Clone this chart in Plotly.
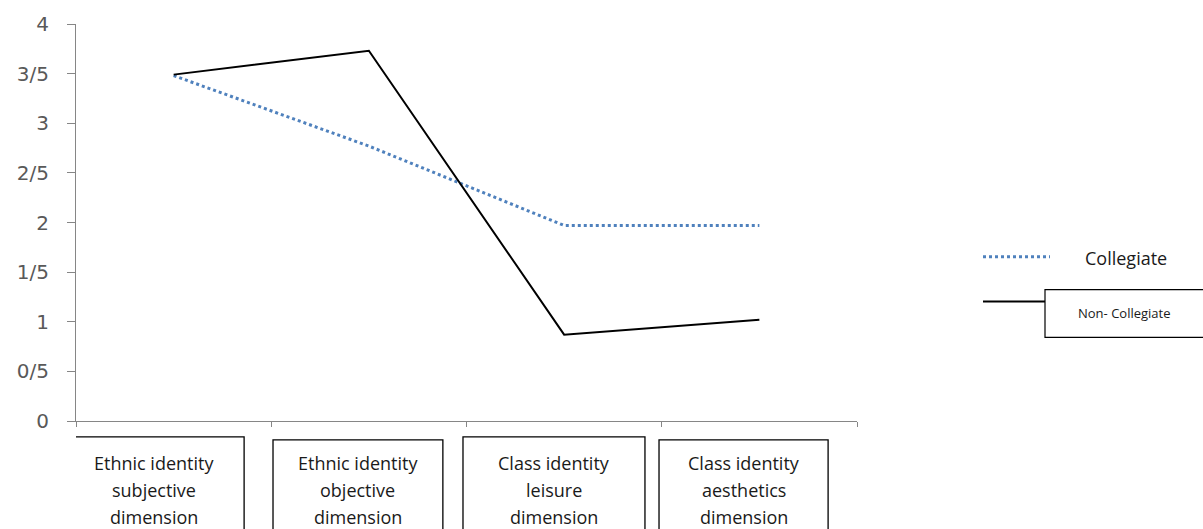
import plotly.graph_objects as go

# ---- data ----
category_lines = [
    ["Ethnic identity", "subjective", "dimension"],
    ["Ethnic identity", "objective", "dimension"],
    ["Class identity", "leisure", "dimension"],
    ["Class identity", "aesthetics", "dimension"],
]
categories = [" ".join(c) for c in category_lines]
collegiate = [3.48, 2.77, 1.97, 1.97]
non_collegiate = [3.49, 3.73, 0.87, 1.02]
y_tick_values = [0, 0.5, 1, 1.5, 2, 2.5, 3, 3.5, 4]
y_tick_labels = ["0", "0/5", "1", "1/5", "2", "2/5", "3", "3/5", "4"]
series_names = ["Collegiate", "Non- Collegiate"]

# ---- layout constants ----
W, H = 1203, 529
ML, MR, MT, MB = 76, 346, 22, 108
PW, PH = W - ML - MR, H - MT - MB
AXIS_GREY = "#868686"
BLUE = "#4F81BD"
FONT = "Open Sans"


def px_x(p):
    return (p - ML) / PW


def px_y(p):
    return (H - MB - p) / PH


fig = go.Figure()
fig.add_trace(go.Scatter(x=categories, y=collegiate, mode="lines", name=series_names[0],
                         line=dict(color=BLUE, width=3, dash="dot"), showlegend=False))
fig.add_trace(go.Scatter(x=categories, y=non_collegiate, mode="lines", name=series_names[1],
                         line=dict(color="black", width=2), showlegend=False))

fig.update_layout(
    width=W, height=H,
    margin=dict(l=ML, r=MR, t=MT, b=MB, pad=0),
    paper_bgcolor="white", plot_bgcolor="white",
    font=dict(family=FONT, color="#1a1a1a"),
    xaxis=dict(type="category", range=[-0.5, 3.5], tickson="boundaries",
               showticklabels=False, ticks="outside", ticklen=5, tickcolor=AXIS_GREY,
               showline=True, linecolor=AXIS_GREY, linewidth=1.2,
               showgrid=False, zeroline=False),
    yaxis=dict(range=[0, 4], tickmode="array", tickvals=y_tick_values, ticktext=y_tick_labels,
               ticks="outside", ticklen=8, tickcolor=AXIS_GREY, ticklabelstandoff=14,
               tickfont=dict(family="DejaVu Sans", size=20, color="#595959"),
               showline=True, linecolor=AXIS_GREY, linewidth=1.2,
               showgrid=False, zeroline=False),
)

# category boxes (edges relative to category centre, in category units)
box_edges = [(-0.561, 0.361), (-0.491, 0.379), (-0.518, 0.414), (-0.514, 0.352)]
box_tops = [437, 440, 437, 440]
line_shifts = [-42, -69, -96]
shapes = []
annotations = []
for i, lines in enumerate(category_lines):
    l, r = box_edges[i]
    shapes.append(dict(type="rect", xref="x", yref="paper", x0=i + l, x1=i + r,
                       y0=px_y(H + 40), y1=px_y(box_tops[i]),
                       line=dict(color="black", width=1.3), fillcolor="white", layer="above"))
    cx = i + (l + r) / 2
    for k, txt in enumerate(lines):
        annotations.append(dict(x=cx, xref="x", y=0, yref="paper", yshift=line_shifts[k],
                                text=txt, showarrow=False, xanchor="center", yanchor="middle",
                                font=dict(family=FONT, size=18, color="#1a1a1a")))

# legend (drawn manually)
shapes.append(dict(type="line", xref="paper", yref="paper",
                   x0=px_x(983), x1=px_x(1050), y0=px_y(256), y1=px_y(256),
                   line=dict(color=BLUE, width=3, dash="dot")))
annotations.append(dict(x=px_x(1083), y=px_y(257), xref="paper", yref="paper",
                        text=series_names[0], showarrow=False, xanchor="left", yanchor="middle",
                        font=dict(family=FONT, size=18, color="#1a1a1a")))
shapes.append(dict(type="line", xref="paper", yref="paper",
                   x0=px_x(983), x1=px_x(1045), y0=px_y(301), y1=px_y(301),
                   line=dict(color="black", width=2)))
shapes.append(dict(type="rect", xref="paper", yref="paper",
                   x0=px_x(1045), x1=px_x(1215), y0=px_y(337), y1=px_y(289),
                   line=dict(color="black", width=1.2), fillcolor="white"))
annotations.append(dict(x=px_x(1076), y=px_y(312), xref="paper", yref="paper",
                        text=series_names[1], showarrow=False, xanchor="left", yanchor="middle",
                        font=dict(family=FONT, size=13, color="#1a1a1a")))

fig.update_layout(shapes=shapes, annotations=annotations)
fig.write_html("out.html", config={"displayModeBar": False},
               post_script="document.body.style.margin='0';document.body.style.overflow='hidden';")
